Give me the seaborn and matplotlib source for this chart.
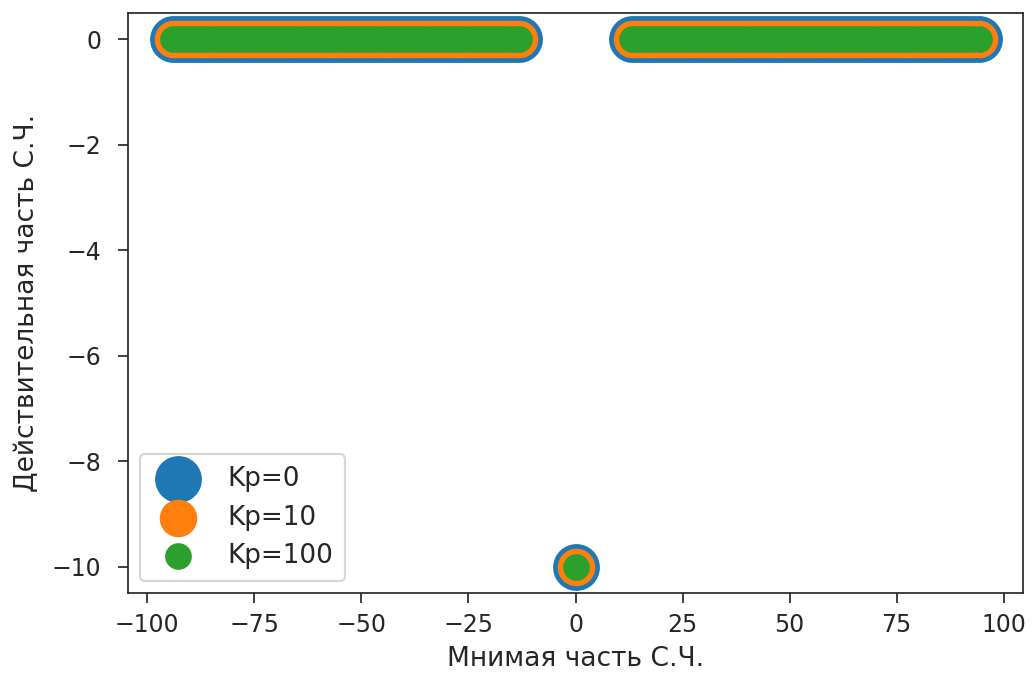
import matplotlib
matplotlib.use("Agg")
import matplotlib.pyplot as plt
import seaborn as sns
import pandas as pd

# Eigenvalues (С.Ч.) of the closed loop for several proportional gains.
# Imaginary parts of the oscillatory branch (negative and positive halves)
imag_neg = [-94.0, -92.7, -91.4, -90.1, -88.8, -87.5, -86.2, -84.9, -83.6, -82.3,
            -81.0, -79.7, -78.4, -77.1, -75.8, -74.5, -73.2, -71.9, -70.6, -69.3,
            -68.0, -66.7, -65.4, -64.1, -62.8, -61.5, -60.2, -58.9, -57.6, -56.3,
            -55.0, -53.7, -52.4, -51.1, -49.8, -48.5, -47.2, -45.9, -44.6, -43.3,
            -42.0, -40.7, -39.4, -38.1, -36.8, -35.5, -34.2, -32.9, -31.6, -30.3,
            -29.0, -27.7, -26.4, -25.1, -23.8, -22.5, -21.2, -19.9, -18.6, -17.3,
            -16.0, -14.7, -13.2]
imag_pos = [13.2, 14.5, 15.8, 17.1, 18.4, 19.7, 21.0, 22.3, 23.6, 24.9,
            26.2, 27.5, 28.8, 30.1, 31.4, 32.7, 34.0, 35.3, 36.6, 37.9,
            39.2, 40.5, 41.8, 43.1, 44.4, 45.7, 47.0, 48.3, 49.6, 50.9,
            52.2, 53.5, 54.8, 56.1, 57.4, 58.7, 60.0, 61.3, 62.6, 63.9,
            65.2, 66.5, 67.8, 69.1, 70.4, 71.7, 73.0, 74.3, 75.6, 76.9,
            78.2, 79.5, 80.8, 82.1, 83.4, 84.7, 86.0, 87.3, 88.6, 89.9,
            91.2, 92.6, 94.2]
# Aperiodic eigenvalue
imag_real_pole = [0.0]
real_real_pole = [-10.0]

gains = ["Kp=0", "Kp=10", "Kp=100"]
marker_sizes = [430, 270, 130]
colors = ["#1f77b4", "#ff7f0e", "#2ca02c"]

frames = []
for g in gains:
    xs = imag_neg + imag_pos + imag_real_pole
    ys = [0.0] * (len(imag_neg) + len(imag_pos)) + real_real_pole
    frames.append(pd.DataFrame({"imag": xs, "real": ys, "gain": g}))
df = pd.concat(frames, ignore_index=True)

plt.rcParams["font.family"] = ["DejaVu Sans"]
plt.rcParams["xtick.labelsize"] = 11
plt.rcParams["ytick.labelsize"] = 11
plt.rcParams["axes.labelsize"] = 12.3
plt.rcParams["legend.fontsize"] = 12.2
plt.rcParams["xtick.major.size"] = 4.5
plt.rcParams["ytick.major.size"] = 4.5
plt.rcParams["xtick.major.pad"] = 5.0
plt.rcParams["ytick.major.pad"] = 8.0
plt.rcParams["text.color"] = "#262626"
plt.rcParams["axes.labelcolor"] = "#262626"
plt.rcParams["xtick.color"] = "#262626"
plt.rcParams["ytick.color"] = "#262626"
plt.rcParams["axes.edgecolor"] = "#262626"

fig = plt.figure(figsize=(1032 / 155, 675 / 155), dpi=155)
ax = fig.add_axes([128 / 1032, 1 - 593 / 675, (1023 - 128) / 1032, (593 - 13) / 675])

for g, s, c in zip(gains, marker_sizes, colors):
    sub = df[df["gain"] == g]
    sns.scatterplot(data=sub, x="imag", y="real", s=s, color=c,
                    edgecolor=c, linewidth=1.0, label=g, ax=ax, legend=True)

ax.set_xlim(-104.5, 104.5)
ax.set_ylim(-10.5, 0.5)
ax.set_xticks([-100, -75, -50, -25, 0, 25, 50, 75, 100])
ax.set_yticks([0, -2, -4, -6, -8, -10])
ax.set_xlabel("Мнимая часть С.Ч.", labelpad=4)
ax.set_ylabel("Действительная часть С.Ч.", labelpad=5.5)
ax.legend(loc="lower left", borderpad=0.45, handletextpad=0.9, labelspacing=0.48,
          borderaxespad=0.45)

fig.savefig("out.png", dpi=155)
